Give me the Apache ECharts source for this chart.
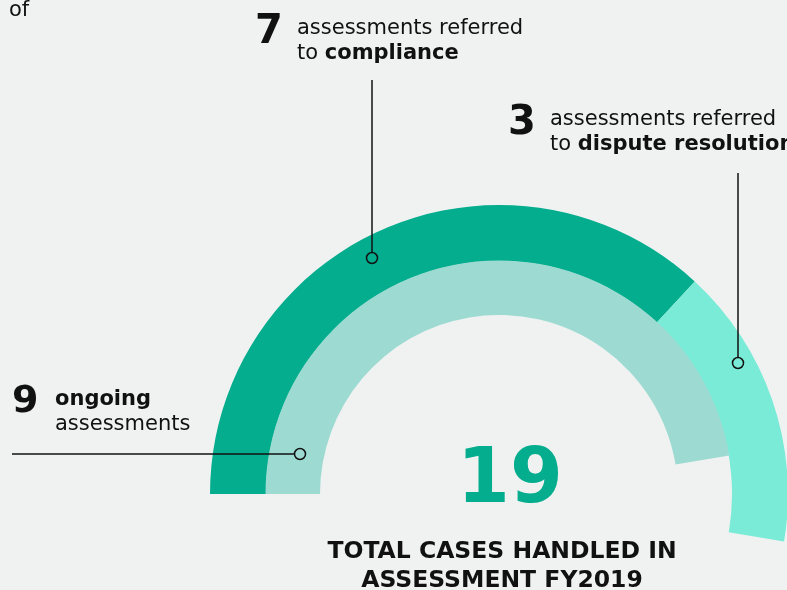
<!DOCTYPE html>
<html>
<head>
<meta charset="utf-8">
<script src="https://cdn.jsdelivr.net/npm/echarts@6/dist/echarts.min.js"></script>
<style>
  html, body { margin: 0; padding: 0; background: #f0f2f1; }
  #main { width: 787px; height: 590px; }
</style>
</head>
<body>
<div id="main"></div>
<script>
// cases handled in assessment, FY2019
const totalCases = 19;
const outerNames = ['compliance', 'dispute resolution'];
const outerValues = [7, 3];
const innerNames = ['ongoing'];
const innerValues = [9];
const totalTitle = ['TOTAL CASES HANDLED IN', 'ASSESSMENT FY2019'];

const DARK = '#04ad8e';
const CYAN = '#7aebd7';
const LIGHT = '#9ddbd2';
const INK = '#111111';
const FONT = '"DejaVu Sans", sans-serif';

const sum = arr => arr.reduce((a, b) => a + b, 0);

let chart = echarts.init(document.getElementById('main'), null, { renderer: 'canvas' });

// ring data, the rest of the 19 is left empty so that one case = 1/19 of a turn
const outerData = [
    { name: outerNames[0], value: outerValues[0], itemStyle: { color: DARK } },
    { name: outerNames[1], value: outerValues[1], itemStyle: { color: CYAN } },
    { name: 'rest', value: totalCases - sum(outerValues), itemStyle: { color: 'rgba(0,0,0,0)' } }
];
const innerData = [
    { name: innerNames[0], value: innerValues[0], itemStyle: { color: LIGHT } },
    { name: 'rest', value: totalCases - sum(innerValues), itemStyle: { color: 'rgba(0,0,0,0)' } }
];

function txt(x, y, text, size, opts) {
    opts = opts || {};
    return {
        type: 'text',
        silent: true,
        z: 100,
        style: {
            x: x,
            y: y,
            text: text,
            fill: opts.color || INK,
            font: (opts.bold ? 'bold ' : '') + size + 'px ' + FONT,
            textAlign: opts.align || 'left',
            textVerticalAlign: 'middle',
            rich: opts.rich
        }
    };
}

function leader(x1, y1, x2, y2, cx, cy) {
    return [
        { type: 'line', silent: true, z: 100, shape: { x1: x1, y1: y1, x2: x2, y2: y2 },
          style: { stroke: INK, lineWidth: 1.5 } },
        { type: 'circle', silent: true, z: 100, shape: { cx: cx, cy: cy, r: 5.5 },
          style: { stroke: INK, lineWidth: 1.5, fill: 'rgba(0,0,0,0)' } }
    ];
}

const boldRich = size => ({ b: { fontWeight: 'bold', fontSize: size, fontFamily: FONT, fill: INK } });

chart.setOption({
    backgroundColor: '#f0f2f1',
    animation: false,
    series: [
        {
            name: 'referred',
            type: 'pie',
            center: [499, 494],
            radius: [233, 289],
            startAngle: 180,
            clockwise: true,
            silent: true,
            label: { show: false },
            labelLine: { show: false },
            emphasis: { disabled: true },
            data: outerData
        },
        {
            name: 'ongoing',
            type: 'pie',
            center: [499, 494],
            radius: [179, 233.5],
            startAngle: 180,
            clockwise: true,
            silent: true,
            label: { show: false },
            labelLine: { show: false },
            emphasis: { disabled: true },
            data: innerData
        }
    ],
    graphic: [
        txt(9, 11, 'of', 21),

        txt(255, 33, String(outerValues[0]), 40, { bold: true }),
        txt(297, 29, 'assessments referred', 21),
        txt(297, 54, 'to {b|' + outerNames[0] + '}', 21, { rich: boldRich(21) }),

        txt(508, 124, String(outerValues[1]), 40, { bold: true }),
        txt(550, 120, 'assessments referred', 21),
        txt(550, 145, 'to {b|' + outerNames[1] + '}', 21, { rich: boldRich(21) }),

        txt(12, 402, String(innerValues[0]), 38, { bold: true }),
        txt(55, 400, innerNames[0], 21, { bold: true }),
        txt(55, 425, 'assessments', 21),

        txt(510, 482, String(totalCases), 76, { bold: true, color: DARK, align: 'center' }),
        txt(502, 552, totalTitle[0], 23.5, { bold: true, align: 'center' }),
        txt(502, 581, totalTitle[1], 23.5, { bold: true, align: 'center' })
    ]
        .concat(leader(12, 454, 294.5, 454, 300, 454))
        .concat(leader(372, 80, 372, 252.5, 372, 258))
        .concat(leader(738, 173, 738, 357.5, 738, 363))
});
</script>
</body>
</html>
